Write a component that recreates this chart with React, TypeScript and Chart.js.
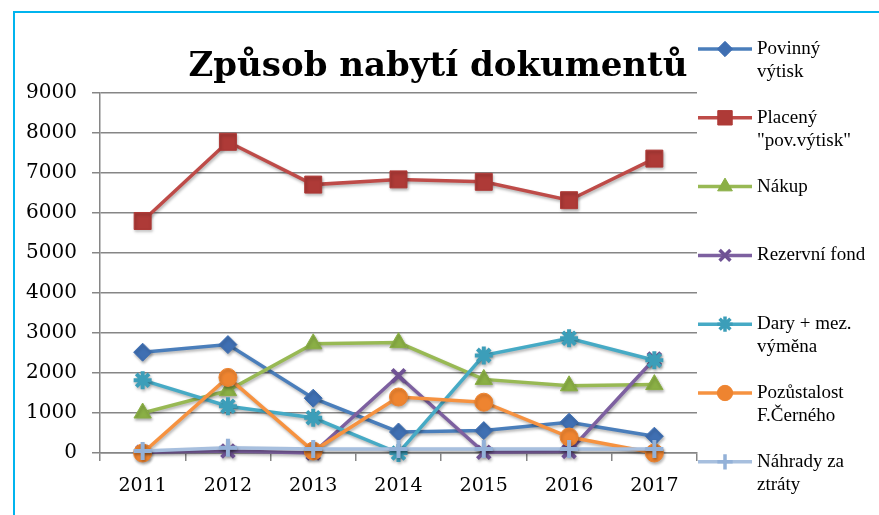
import React, { useEffect, useRef } from 'react';
import { Chart, registerables } from 'chart.js';
import { drawPoint } from 'chart.js/helpers';

Chart.register(...registerables);

const categories = ['2011', '2012', '2013', '2014', '2015', '2016', '2017'];
const yTicks = [0, 1000, 2000, 3000, 4000, 5000, 6000, 7000, 8000, 9000];

const povinny = [2520, 2710, 1370, 525, 560, 770, 420];
const placeny = [5800, 7780, 6710, 6840, 6780, 6320, 7360];
const nakup = [1000, 1560, 2730, 2760, 1840, 1680, 1710];
const rezervni = [20, 50, 0, 1930, 20, 40, 2350];
const dary = [1820, 1170, 880, 0, 2440, 2870, 2320];
const pozustalost = [0, 1890, 50, 1400, 1270, 400, 0];
const nahrady = [50, 130, 100, 100, 100, 100, 100];

const titleText = 'Způsob nabytí dokumentů';

const seriesLabels = [
  ['Povinný', 'výtisk'],
  ['Placený', '"pov.výtisk"'],
  ['Nákup'],
  ['Rezervní fond'],
  ['Dary + mez.', 'výměna'],
  ['Pozůstalost', 'F.Černého'],
  ['Náhrady za', 'ztráty'],
];

const seriesData = [povinny, placeny, nakup, rezervni, dary, pozustalost, nahrady];
const lineColors = ['#4A7EBB', '#BE4B48', '#98B954', '#7D60A0', '#46AAC5', '#F69240', '#A7BFDE'];
const markerColors = ['#3F6FB2', '#AE3A37', '#8AAF45', '#6F5294', '#3C9EB9', '#EE8430', '#93B1D8'];
const pointStyles = ['rectRot', 'rect', 'triangle', 'crossRot', 'star', 'circle', 'cross'];
const pointRadii = [9, 12, 10, 9, 9, 9, 9];
const pointBorders = [1, 1, 1, 4, 4, 1, 4];

const titlePlugin = {
  id: 'customTitle',
  afterDraw(chart: any) {
    const ctx = chart.ctx;
    ctx.save();
    ctx.font = 'bold 34px "DejaVu Serif"';
    ctx.fillStyle = '#000';
    ctx.textAlign = 'center';
    ctx.textBaseline = 'alphabetic';
    ctx.fillText(titleText, 438, 76);
    ctx.restore();
  },
};

const legendPlugin = {
  id: 'customLegend',
  afterDraw(chart: any) {
    const ctx = chart.ctx;
    ctx.save();
    seriesLabels.forEach((lines, i) => {
      const y = 49 + i * 68.8;
      ctx.strokeStyle = lineColors[i];
      ctx.lineWidth = 3.5;
      ctx.beginPath();
      ctx.moveTo(698, y);
      ctx.lineTo(752, y);
      ctx.stroke();
      ctx.fillStyle = markerColors[i];
      ctx.strokeStyle = markerColors[i];
      ctx.lineWidth = pointBorders[i] > 1 ? 3.5 : 1;
      drawPoint(ctx, {
        pointStyle: pointStyles[i],
        radius: pointRadii[i] * 0.85,
        rotation: 0,
        borderWidth: pointBorders[i] > 1 ? 3.5 : 1,
      } as any, 725, y);
      ctx.fillStyle = '#000';
      ctx.font = '19px "Liberation Serif"';
      ctx.textAlign = 'left';
      ctx.textBaseline = 'middle';
      lines.forEach((t, j) => ctx.fillText(t, 757, y + j * 23));
    });
    ctx.restore();
  },
};

const shadowPlugin = {
  id: 'shadow',
  beforeDatasetsDraw(chart: any) {
    const ctx = chart.ctx;
    ctx.save();
    ctx.shadowColor = 'rgba(0,0,0,0.3)';
    ctx.shadowBlur = 3;
    ctx.shadowOffsetX = 1;
    ctx.shadowOffsetY = 2;
  },
  afterDatasetsDraw(chart: any) {
    chart.ctx.restore();
  },
};

export default function App() {
  const ref = useRef<HTMLCanvasElement>(null);

  useEffect(() => {
    if (!ref.current) return;
    const chart = new Chart(ref.current, {
      type: 'line',
      data: {
        labels: categories,
        datasets: seriesData.map((d, i) => ({
          label: seriesLabels[i].join(' '),
          data: d,
          borderColor: lineColors[i],
          backgroundColor: markerColors[i],
          borderWidth: 3.5,
          pointStyle: pointStyles[i] as any,
          pointRadius: pointRadii[i],
          pointBorderWidth: pointBorders[i],
          pointBackgroundColor: markerColors[i],
          pointBorderColor: markerColors[i],
          tension: 0,
          clip: false as any,
          order: seriesData.length - i,
        })),
      },
      options: {
        animation: false,
        responsive: false,
        devicePixelRatio: 1,
        layout: { padding: { left: 0, right: 182, top: 93, bottom: 0 } },
        plugins: {
          legend: { display: false },
          title: { display: false },
          tooltip: { enabled: false },
        },
        scales: {
          x: {
            type: 'category',
            offset: true,
            grid: {
              offset: true,
              drawOnChartArea: false,
              drawTicks: true,
              tickLength: 8,
              color: '#868686',
              lineWidth: 1.5,
            },
            border: { display: true, color: '#868686', width: 1.5 },
            ticks: {
              color: '#000',
              font: { family: '"DejaVu Serif"', size: 19 },
              padding: 14,
              maxRotation: 0,
            },
            afterFit: (s: any) => { s.height = 62; },
          },
          y: {
            min: 0,
            max: 9000,
            afterBuildTicks: (s: any) => { s.ticks = yTicks.map((v) => ({ value: v })); },
            grid: {
              color: '#868686',
              lineWidth: 1.5,
              drawTicks: true,
              tickLength: 8,
            },
            border: { display: true, color: '#868686', width: 1.5 },
            ticks: {
              color: '#000',
              font: { family: '"DejaVu Serif"', size: 20 },
              padding: 15,
              callback: (v: any) => String(v),
            },
            afterFit: (s: any) => { s.width = 100; },
          },
        },
      },
      plugins: [shadowPlugin, titlePlugin, legendPlugin],
    });
    return () => chart.destroy();
  }, []);

  return (
    <div style={{ position: 'fixed', left: 0, top: 0, width: 879, height: 515, background: '#fff' }}>
      <canvas ref={ref} width={879} height={515} style={{ position: 'absolute', left: 0, top: 0 }} />
      <div
        style={{
          position: 'absolute',
          left: 13,
          top: 11,
          width: 866,
          height: 504,
          borderTop: '2px solid #00B4EE',
          borderLeft: '2px solid #00B4EE',
          boxSizing: 'border-box',
          pointerEvents: 'none',
        }}
      />
    </div>
  );
}
